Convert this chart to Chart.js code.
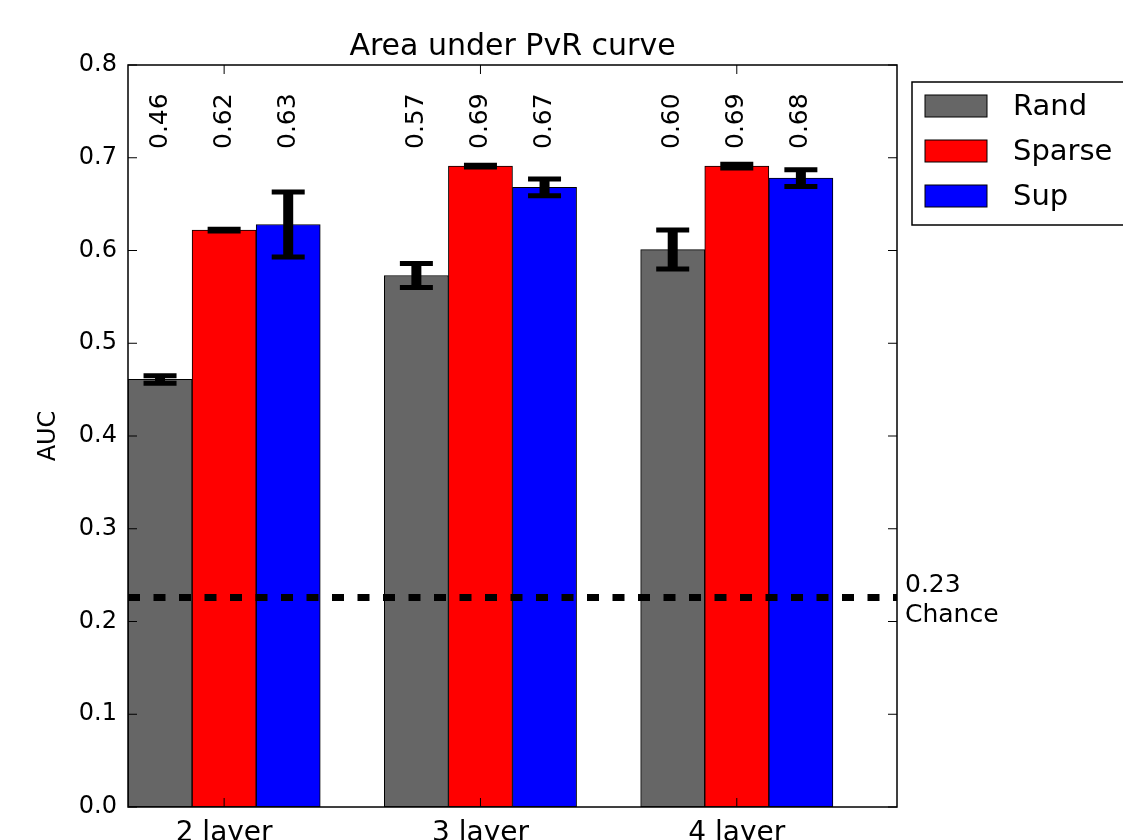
<!DOCTYPE html>
<html>
<head>
<meta charset="utf-8">
<script src="https://cdn.jsdelivr.net/npm/chart.js@4"></script>
<style>
  body { margin: 0; background: #fff; }
  #wrap { width: 1123px; height: 840px; }
</style>
</head>
<body>
<div id="wrap"><canvas id="aucChart" width="1123" height="840"></canvas></div>
<script>
// data
const categories = ["2 layer", "3 layer", "4 layer"];
const seriesNames = ["Rand", "Sparse", "Sup"];
const seriesColors = ["#666666", "#ff0000", "#0000ff"];
const randValues = [0.461, 0.573, 0.601];
const sparseValues = [0.622, 0.691, 0.691];
const supValues = [0.628, 0.668, 0.678];
const randErrors = [0.004, 0.013, 0.021];
const sparseErrors = [0.001, 0.001, 0.002];
const supErrors = [0.035, 0.009, 0.009];
const chanceLevel = 0.226;
const chartTitle = "Area under PvR curve";
const yTitle = "AUC";

const FONT = "'DejaVu Sans', sans-serif";
const slotsPerGroup = 4; // three bars + one empty slot

// one slot per bar, the 4th slot of each group stays empty
const slotLabels = [];
categories.forEach((c) => {
  for (let s = 0; s < slotsPerGroup; s++) slotLabels.push(c + "_" + s);
});

const toSlots = (values, seriesIndex) => {
  const arr = new Array(slotLabels.length).fill(null);
  values.forEach((v, g) => {
    arr[g * slotsPerGroup + seriesIndex] = v;
  });
  return arr;
};

const allValues = [randValues, sparseValues, supValues];
const allErrors = [randErrors, sparseErrors, supErrors];

const datasets = seriesNames.map((name, s) => ({
  label: name,
  data: toSlots(allValues[s], s),
  backgroundColor: seriesColors[s],
  borderColor: "#000",
  borderWidth: 1,
  borderSkipped: false,
  grouped: false,
  barPercentage: 1,
  categoryPercentage: 1,
}));

const overlayPlugin = {
  id: "overlay",
  afterDatasetsDraw(chart) {
    const ctx = chart.ctx;
    const x = chart.scales.x;
    const y = chart.scales.y;
    const area = chart.chartArea;

    // error bars
    ctx.save();
    ctx.strokeStyle = "#000";
    seriesNames.forEach((name, s) => {
      const meta = chart.getDatasetMeta(s);
      allValues[s].forEach((v, g) => {
        const el = meta.data[g * slotsPerGroup + s];
        const err = allErrors[s][g];
        const yTop = y.getPixelForValue(v + err);
        const yBot = y.getPixelForValue(v - err);
        ctx.lineWidth = 10;
        ctx.beginPath();
        ctx.moveTo(el.x, yTop);
        ctx.lineTo(el.x, yBot);
        ctx.stroke();
        ctx.lineWidth = 5;
        ctx.beginPath();
        ctx.moveTo(el.x - 16.5, yTop);
        ctx.lineTo(el.x + 16.5, yTop);
        ctx.moveTo(el.x - 16.5, yBot);
        ctx.lineTo(el.x + 16.5, yBot);
        ctx.stroke();
      });
    });

    // chance line
    const yc = y.getPixelForValue(chanceLevel);
    ctx.lineWidth = 7;
    ctx.setLineDash([12, 13.5]);
    ctx.beginPath();
    ctx.moveTo(area.left, yc);
    ctx.lineTo(area.right, yc);
    ctx.stroke();
    ctx.setLineDash([]);

    // inward ticks
    ctx.lineWidth = 1;
    ctx.beginPath();
    y.ticks.forEach((t) => {
      const py = y.getPixelForValue(t.value);
      ctx.moveTo(area.left, py);
      ctx.lineTo(area.left + 9, py);
      ctx.moveTo(area.right, py);
      ctx.lineTo(area.right - 9, py);
    });
    categories.forEach((c, g) => {
      const px = x.getPixelForValue(g * slotsPerGroup + 1);
      ctx.moveTo(px, area.bottom);
      ctx.lineTo(px, area.bottom - 9);
      ctx.moveTo(px, area.top);
      ctx.lineTo(px, area.top + 9);
    });
    ctx.stroke();

    // frame
    ctx.lineWidth = 1.5;
    ctx.strokeRect(area.left, area.top, area.right - area.left, area.bottom - area.top);
    ctx.restore();
  },
  afterDraw(chart) {
    const ctx = chart.ctx;
    const y = chart.scales.y;
    const area = chart.chartArea;
    ctx.save();
    ctx.fillStyle = "#000";

    // title
    ctx.font = "30px " + FONT;
    ctx.textAlign = "center";
    ctx.textBaseline = "alphabetic";
    ctx.fillText(chartTitle, (area.left + area.right) / 2, 55);

    // y title
    ctx.save();
    ctx.font = "24px " + FONT;
    ctx.translate(49, (area.top + area.bottom) / 2);
    ctx.rotate(-Math.PI / 2);
    ctx.textBaseline = "middle";
    ctx.fillText(yTitle, 0, 0);
    ctx.restore();

    // value labels, rotated, near the top
    ctx.font = "25px " + FONT;
    seriesNames.forEach((name, s) => {
      const meta = chart.getDatasetMeta(s);
      allValues[s].forEach((v, g) => {
        const el = meta.data[g * slotsPerGroup + s];
        ctx.save();
        ctx.translate(el.x, 149);
        ctx.rotate(-Math.PI / 2);
        ctx.textAlign = "left";
        ctx.textBaseline = "middle";
        ctx.fillText(v.toFixed(2), 0, 0);
        ctx.restore();
      });
    });

    // chance text
    const yc = y.getPixelForValue(chanceLevel);
    ctx.font = "25px " + FONT;
    ctx.textAlign = "left";
    ctx.textBaseline = "alphabetic";
    ctx.fillText(chanceLevel.toFixed(2), 905, yc - 5);
    ctx.fillText("Chance", 905, yc + 25);

    // legend
    ctx.lineWidth = 1.5;
    ctx.strokeStyle = "#000";
    ctx.strokeRect(912, 82, 240, 143);
    ctx.font = "29px " + FONT;
    ctx.textBaseline = "middle";
    seriesNames.forEach((name, s) => {
      const cy = 106 + s * 45;
      ctx.fillStyle = seriesColors[s];
      ctx.fillRect(925, cy - 11, 62, 22);
      ctx.lineWidth = 1;
      ctx.strokeRect(925, cy - 11, 62, 22);
      ctx.fillStyle = "#000";
      ctx.fillText(name, 1013, cy + 1);
    });
    ctx.restore();
  },
};

new Chart(document.getElementById("aucChart").getContext("2d"), {
  type: "bar",
  data: {
    labels: slotLabels,
    datasets: datasets,
  },
  options: {
    responsive: false,
    animation: false,
    devicePixelRatio: 1,
    layout: {
      padding: { top: 65, right: 226, left: 0, bottom: 0 },
    },
    scales: {
      x: {
        type: "category",
        offset: true,
        grid: { display: false, drawTicks: false },
        border: { display: false },
        ticks: {
          autoSkip: false,
          maxRotation: 0,
          minRotation: 0,
          padding: 10,
          color: "#000",
          font: { family: FONT, size: 28 },
          callback: function (value, index) {
            return index % slotsPerGroup === 1
              ? categories[(index - 1) / slotsPerGroup]
              : "";
          },
        },
        afterFit: (scale) => {
          scale.height = 33;
        },
      },
      y: {
        min: 0,
        max: 0.8,
        grid: { display: false, drawTicks: false },
        border: { display: false },
        ticks: {
          stepSize: 0.1,
          padding: 11,
          color: "#000",
          font: { family: FONT, size: 24 },
          callback: (v) => v.toFixed(1),
        },
        afterFit: (scale) => {
          scale.width = 128;
        },
      },
    },
    plugins: {
      legend: { display: false },
      title: { display: false },
      tooltip: { enabled: false },
    },
  },
  plugins: [overlayPlugin],
});
</script>
</body>
</html>
